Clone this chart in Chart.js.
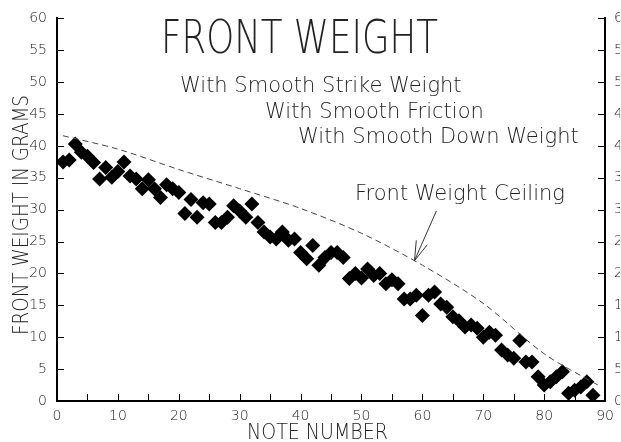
<!DOCTYPE html>
<html>
<head>
<meta charset="utf-8">
<script src="https://cdn.jsdelivr.net/npm/chart.js@4.4.1/dist/chart.umd.min.js"></script>
<style>
    html, body { margin: 0; padding: 0; background: #fff; overflow: hidden; }
</style>
</head>
<body>
<canvas id="frontChart" width="621" height="442"></canvas>
<script>
// Note numbers (piano keys)
const notes = [
    1, 2, 3, 4, 5, 6, 7, 8, 9, 10, 11, 12, 13, 14, 15, 16, 17, 18, 19, 20,
    21, 22, 23, 24, 25, 26, 27, 28, 29, 30, 31, 32, 33, 34, 35, 36, 37, 38, 39, 40,
    41, 42, 43, 44, 45, 46, 47, 48, 49, 50, 51, 52, 53, 54, 55, 56, 57, 58, 59, 60,
    61, 62, 63, 64, 65, 66, 67, 68, 69, 70, 71, 72, 73, 74, 75, 76, 77, 78, 79, 80,
    81, 82, 83, 84, 85, 86, 87, 88,
];

// Front weight in grams, one per note
const frontWeight = [
    37.5, 37.8, 40.3, 39.0, 38.4, 37.4, 34.8, 36.6, 35.1, 36.0,
    37.5, 35.3, 34.8, 33.3, 34.7, 33.3, 31.9, 33.9, 33.3, 32.7,
    29.4, 31.6, 28.8, 31.1, 30.9, 28.0, 28.0, 28.8, 30.6, 29.8,
    28.8, 30.9, 28.0, 26.5, 25.7, 25.4, 26.5, 25.2, 25.4, 23.3,
    22.3, 24.4, 21.3, 22.5, 23.3, 23.3, 22.5, 19.2, 20.0, 19.3,
    20.7, 19.7, 20.0, 18.4, 19.0, 18.4, 16.0, 16.0, 16.6, 13.4,
    16.6, 17.1, 15.2, 14.7, 13.2, 12.6, 11.6, 11.9, 11.4, 10.0,
    10.8, 10.3, 8.0, 7.2, 6.7, 9.5, 6.1, 6.1, 3.8, 2.5,
    3.0, 3.8, 4.6, 1.2, 1.7, 2.2, 3.0, 0.9,
];

// Front weight ceiling (dashed curve)
const ceilingNotes = [1, 10, 20, 30, 40, 50, 60, 70, 80, 89];
const ceilingWeight = [41.6, 39.5, 36.3, 33.3, 30.2, 26.3, 21.3, 15.3, 7.4, 2.4];

// Axis ranges
const xRange = [0, 90];
const yRange = [0, 60];

const FONT = "'DejaVu Sans', sans-serif";
const INK = "#222";

const scatterData = notes.map((n, i) => ({ x: n, y: frontWeight[i] }));
const ceilingData = ceilingNotes.map((n, i) => ({ x: n, y: ceilingWeight[i] }));

// Inward ticks, texts and the arrow
const decorPlugin = {
    id: "decor",
    afterDraw(chart) {
        const { ctx, chartArea: a, scales } = chart;
        const xs = scales.x;
        const ys = scales.y;
        ctx.save();
        ctx.strokeStyle = "#000";
        ctx.lineWidth = 1;

        // y ticks (both sides, pointing in)
        for (let v = yRange[0]; v <= yRange[1]; v += 5) {
            const py = Math.round(ys.getPixelForValue(v)) + 0.5;
            ctx.beginPath();
            ctx.moveTo(a.left, py);
            ctx.lineTo(a.left + 7, py);
            ctx.moveTo(a.right, py);
            ctx.lineTo(a.right - 7, py);
            ctx.stroke();
        }
        // x ticks every 5
        for (let v = xRange[0]; v <= xRange[1]; v += 5) {
            const px = Math.round(xs.getPixelForValue(v)) + 0.5;
            ctx.beginPath();
            ctx.moveTo(px, a.bottom);
            ctx.lineTo(px, a.bottom - 7);
            ctx.stroke();
        }

        // texts
        ctx.fillStyle = INK;
        ctx.textAlign = "left";
        ctx.textBaseline = "alphabetic";
        const txt = (s, size, x, y, w) => {
            ctx.font = "200 " + size + "px " + FONT;
            ctx.fillText(s, x, y, w);
        };
        txt("FRONT WEIGHT", 46, 161, 53, 277);
        txt("With Smooth Strike Weight", 21, 180, 92, 292);
        txt("With Smooth Friction", 21, 265, 118, 225);
        txt("With Smooth Down Weight", 21, 298, 143, 287);
        txt("Front Weight Ceiling", 21, 355, 200, 223);
        txt("NOTE NUMBER", 21, 247, 439, 141);

        ctx.save();
        ctx.translate(28, 335);
        ctx.rotate(-Math.PI / 2);
        txt("FRONT WEIGHT IN GRAMS", 21, 0, 0, 240);
        ctx.restore();

        // arrow to the ceiling curve
        const P = (x, y) => [xs.getPixelForValue(x), ys.getPixelForValue(y)];
        const tail = P(62.3, 29.8);
        const tip = P(58.7, 22.0);
        const h1 = P(59.0, 25.2);
        const h2 = P(60.8, 24.5);
        ctx.strokeStyle = "#333";
        ctx.beginPath();
        ctx.moveTo(tail[0], tail[1]);
        ctx.lineTo(tip[0], tip[1]);
        ctx.moveTo(h1[0], h1[1]);
        ctx.lineTo(tip[0], tip[1]);
        ctx.lineTo(h2[0], h2[1]);
        ctx.stroke();
        ctx.restore();
    },
};

const tickFont = { family: FONT, size: 14, weight: "200" };

new Chart(document.getElementById("frontChart"), {
    type: "scatter",
    data: {
        datasets: [
            {
                label: "Front Weight Ceiling",
                type: "line",
                data: ceilingData,
                borderColor: "#444",
                borderWidth: 1,
                borderDash: [6, 4],
                pointRadius: 0,
                fill: false,
                tension: 0.3,
                yAxisID: "y",
            },
            {
                label: "Front Weight",
                data: scatterData,
                pointStyle: "rectRot",
                pointRadius: 7.5,
                backgroundColor: "#000",
                borderColor: "#000",
                borderWidth: 0,
                yAxisID: "y",
            },
        ],
    },
    options: {
        responsive: false,
        animation: false,
        layout: {
            padding: { top: 17, left: 0, right: 0, bottom: 0 },
        },
        plugins: {
            legend: { display: false },
            tooltip: { enabled: false },
        },
        scales: {
            x: {
                type: "linear",
                position: "bottom",
                min: xRange[0],
                max: xRange[1],
                grid: { display: true, drawOnChartArea: false, drawTicks: false },
                border: { color: "#000", width: 2 },
                ticks: {
                    stepSize: 10,
                    padding: 7,
                    maxRotation: 0,
                    color: INK,
                    font: tickFont,
                },
                afterFit: (s) => { s.height = 41; },
            },
            y: {
                type: "linear",
                position: "left",
                min: yRange[0],
                max: yRange[1],
                grid: { display: true, drawOnChartArea: false, drawTicks: false },
                border: { color: "#000", width: 2 },
                ticks: { stepSize: 5, padding: 10, color: INK, font: tickFont },
                afterFit: (s) => { s.width = 57; },
            },
            y2: {
                type: "linear",
                position: "right",
                min: yRange[0],
                max: yRange[1],
                grid: { display: true, drawOnChartArea: false, drawTicks: false },
                border: { color: "#000", width: 2 },
                ticks: { stepSize: 5, padding: 9, color: INK, font: tickFont },
                afterFit: (s) => { s.width = 15; },
            },
        },
    },
    plugins: [decorPlugin],
});
</script>
</body>
</html>
